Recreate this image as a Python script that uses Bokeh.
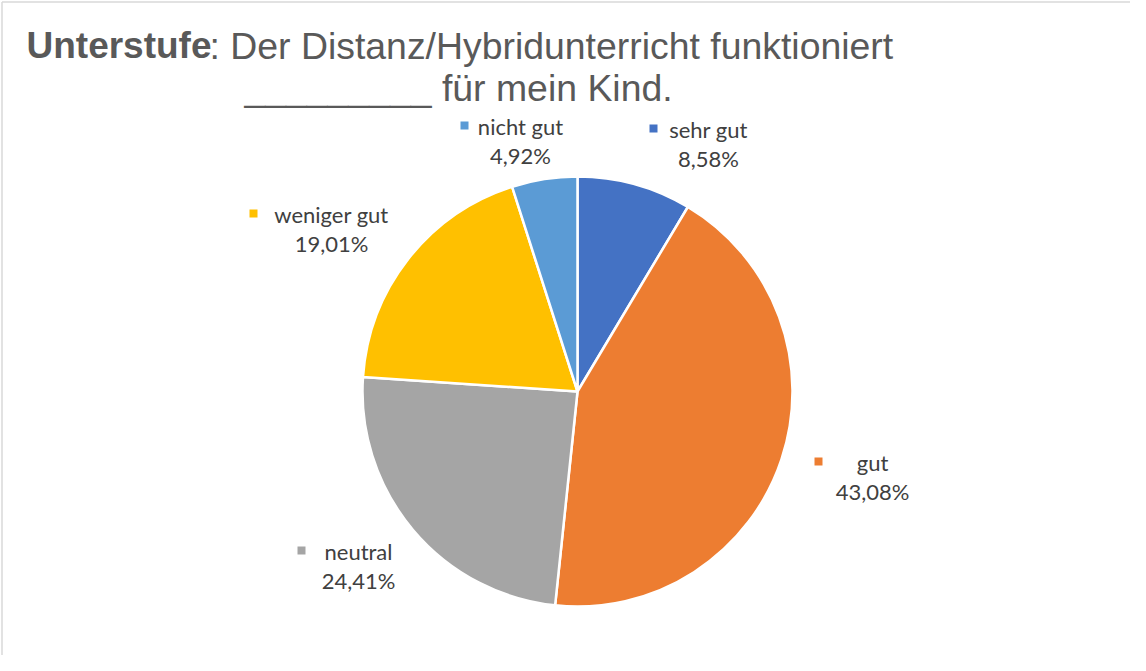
import math
from bokeh.plotting import figure
from bokeh.models import Range1d, ColumnDataSource
from bokeh.core.properties import value
from bokeh.embed import file_html
from bokeh.resources import INLINE

# ---- data ----
categories = ["sehr gut", "gut", "neutral", "weniger gut", "nicht gut"]
shares = [8.58, 43.08, 24.41, 19.01, 4.92]
colors = ["#4472C4", "#ED7D31", "#A5A5A5", "#FFC000", "#5B9BD5"]
title_bold = "Unterstufe"
title_rest = ": Der Distanz/Hybridunterricht funktioniert"
title_line2 = "_________ für mein Kind."

# ---- layout (picture pixel coords) ----
W, H = 1130, 655
def X(px):
    return px
def Y(py):
    return H - py

pie_cx, pie_cy, pie_r = 577, 391, 215
# label anchor: (center x, name line y, marker x offset)
label_layout = [(708, 129, -55), (872, 462, -54), (358, 551, -57), (331, 214, -78), (520, 126, -56)]

p = figure(width=W, height=H, x_range=Range1d(0, W), y_range=Range1d(0, H),
           output_backend="svg", toolbar_location=None, min_border=0)
p.axis.visible = False
p.grid.visible = False
p.outline_line_color = None
p.background_fill_color = "white"
p.border_fill_color = "white"

# chart-area border (left and top edges visible)
p.segment(x0=[X(1.5), X(1.5)], y0=[Y(1.5), Y(1.5)], x1=[X(1.5), X(W)], y1=[Y(H), Y(1.5)],
          line_color="#D9D9D9", line_width=1.5)

total = sum(shares)
starts, ends = [], []
cum = 0.0
for s in shares:
    starts.append(math.pi / 2 - 2 * math.pi * cum / total)
    cum += s
    ends.append(math.pi / 2 - 2 * math.pi * cum / total)

src = ColumnDataSource(dict(start=starts, end=ends, color=colors, cat=categories))
p.wedge(x=X(pie_cx), y=Y(pie_cy), radius=pie_r, start_angle="start", end_angle="end",
        direction="clock", fill_color="color", line_color="white", line_width=2.5, source=src)

# labels
lab_font = value("Lato")
txt_color = "#404040"
name_x, name_y, val_y, mk_x, mk_y, val_txt = [], [], [], [], [], []
for (cx, cy, mdx), s in zip(label_layout, shares):
    name_x.append(X(cx))
    name_y.append(Y(cy))
    val_y.append(Y(cy + 29))
    mk_x.append(X(cx + mdx))
    mk_y.append(Y(cy - 1))
    val_txt.append(("%.2f" % s).replace(".", ",") + "%")

p.text(x=name_x, y=name_y, text=categories, text_font=lab_font, text_font_size="22px",
       text_color=txt_color, text_align="center", text_baseline="middle")
p.text(x=name_x, y=val_y, text=val_txt, text_font=lab_font, text_font_size="22px",
       text_color=txt_color, text_align="center", text_baseline="middle")
p.scatter(x=mk_x, y=mk_y, marker="square", size=8, fill_color=colors, line_color=None)

# title
tfont = value("Liberation Sans")
p.text(x=[X(26)], y=[Y(45)], text=[title_bold], text_font=tfont, text_font_style="bold",
       text_font_size="37px", text_color="#595959", text_align="left", text_baseline="alphabetic")
p.text(x=[X(209)], y=[Y(45)], text=[title_rest], text_font=tfont,
       text_font_size="37.4px", text_color="#595959", text_align="left", text_baseline="alphabetic")
p.text(x=[X(458)], y=[Y(87)], text=[title_line2], text_font=tfont,
       text_font_size="37.4px", text_color="#595959", text_align="center", text_baseline="alphabetic")

open("out.html", "w").write(file_html(p, INLINE))
